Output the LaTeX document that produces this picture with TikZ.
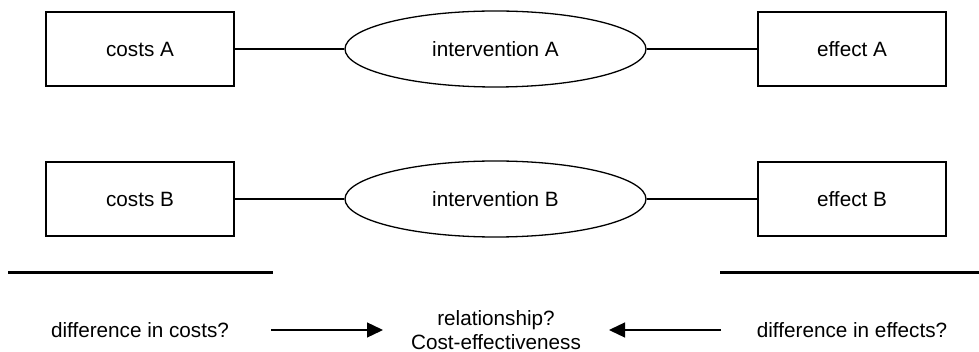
\documentclass[tikz,border=0pt]{standalone}
\usepackage{fontspec}
\setmainfont{Liberation Sans}
\usetikzlibrary{shapes.geometric,arrows.meta}
\begin{document}
\begin{tikzpicture}[x=1pt,y=-1pt,
  txt/.style={font=\fontsize{20.7}{23.5}\selectfont},
  box/.style={txt,draw,line width=1.3pt,minimum width=188pt,minimum height=74pt,inner sep=0pt},
  oval/.style={txt,draw,ellipse,line width=1.3pt,minimum width=301pt,minimum height=76pt,inner sep=0pt},
  link/.style={line width=1.3pt},
  rulebar/.style={line width=3pt},
  lbl/.style={txt,align=center,inner sep=0pt},
  arr/.style={line width=1.3pt,-{Triangle[length=16pt,width=15pt]}}]
\useasboundingbox (0,0) rectangle (979,352);

% intervention A
\node[box]  (ca) at (140,49)   {costs A};
\node[oval] (ia) at (495.5,49) {intervention A};
\node[box]  (ea) at (852,49)   {effect A};
\draw[link] (ca) -- (ia);
\draw[link] (ia) -- (ea);

% intervention B
\node[box]  (cb) at (140,199)   {costs B};
\node[oval] (ib) at (495.5,199) {intervention B};
\node[box]  (eb) at (852,199)   {effect B};
\draw[link] (cb) -- (ib);
\draw[link] (ib) -- (eb);

% separating rules
\draw[rulebar] (8,273) -- (273,273);
\draw[rulebar] (720,273) -- (979,273);

% comparison row
\node[lbl] (dc)  at (140,330) {difference in costs?};
\node[lbl] (rel) at (496,330) {relationship?\\Cost-effectiveness};
\node[lbl] (de)  at (852,330) {difference in effects?};
\coordinate (c1) at (271,330);
\coordinate (c2) at (383,330);
\coordinate (e1) at (721,330);
\coordinate (e2) at (609,330);
\draw[arr] (c1) -- (c2);
\draw[arr] (e1) -- (e2);
\end{tikzpicture}
\end{document}
